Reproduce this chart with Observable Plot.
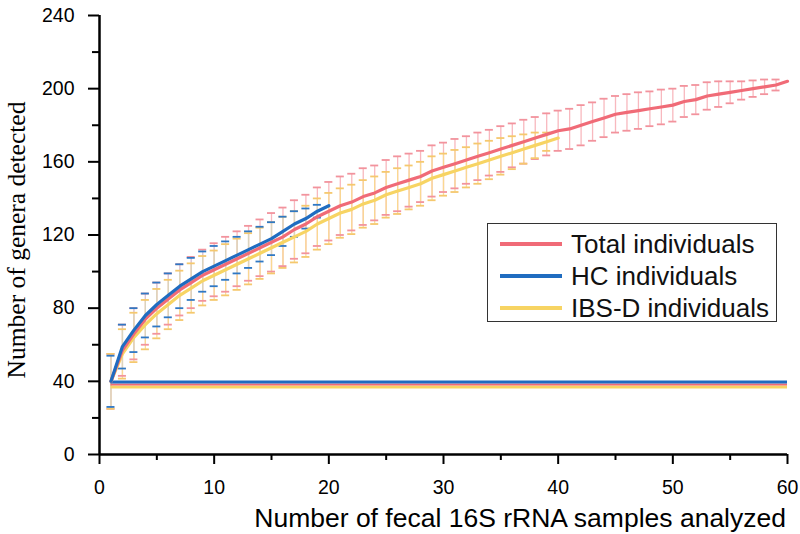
<!DOCTYPE html>
<html><head><meta charset="utf-8">
<script src="https://cdn.jsdelivr.net/npm/d3@7"></script>
<script src="https://cdn.jsdelivr.net/npm/@observablehq/plot@0.6"></script>
<style>
body{margin:0;background:#fff;}
#wrap{position:relative;width:800px;height:534px;}
.legend{position:absolute;left:487px;top:223px;width:290px;height:99px;border:1.5px solid #333;box-sizing:border-box;background:#fff;font-family:"Liberation Sans",Arial,sans-serif;font-size:26px;color:#111;}
.row{position:absolute;left:0;height:30px;display:flex;align-items:center;}
.sw{width:62px;height:3.5px;margin-left:12px;margin-right:9px;}
</style></head>
<body><div id="wrap"></div>
<script>
// Sample counts (x) and mean genera detected per curve
const seriesNames = ["Total individuals", "HC individuals", "IBS-D individuals"];
const seriesColors = ["#f06b77", "#1f6cc0", "#f7d463"];
const barColors = ["#f7b0b7", "#b9d2ee", "#f9dc8c"];
const capColors = ["#f2939d", "#2f78c4", "#f5c86e"];

const totalMean = [40,57,66,74,80,85,90,94,98,101,104,107,110,113,116,119,123,126,130,133,
  136,138,141,143,146,148,150,152,155,157,159,161,163,165,167,169,171,173,175,177,
  178,180,182,184,186,187,188,189,190,191,193,194,196,197,198,199,200,201,202,204];
const totalSd = [15,14,14,14,14,14,14,14,14,14.5,15,15,15,15.5,16,16,16,16,16,16,
  16,15.5,15.5,15,15,15,14.5,14,14,13.5,13.5,13,13,12.5,12.5,12,12,11.5,11.5,11,
  11,11,10.5,10.5,10,10,10,9.5,9.5,9,8.5,8,7.5,7,6,5,4.5,4,3,0];
const hcMean = [40,59,68,76,82,87,92,96,100,103,106,109,112,115,118,122,126,129,133,136];
const hcSd = [14,12,12,12,12,12,12,11.5,11,11,10.5,10,10,9.5,9,8,7,5.5,3.5,0];
const ibsMean = [40,55,64,71,77,82,87,91,95,98,101,104,107,110,113,116,119,122,126,129,
  132,134,137,139,142,144,146,148,151,153,155,157,159,161,163,165,167,169,171,173];
const ibsSd = [15,13.5,13.5,13.5,13.5,13.5,13.5,13.5,13.5,13.5,14,14,14,14,14,14,14,14,14,14,
  13.5,13.5,13,13,12.5,12.5,12,12,12,11.5,11.5,11,11,10.5,10,9,8,7,5,0];

// flat lines drawn across the plot at the bottom (as in original figure)
const flatLevels = [38.3, 39.6, 36.9];
const flatFrom = 1, flatTo = 60;

const xTicks = [0,10,20,30,40,50,60];
const xMinor = [5,15,25,35,45,55];
const yTicks = [0,40,80,120,160,200,240];
const yMinor = [20,60,100,140,180,220];
const xTitle = "Number of fecal 16S rRNA samples analyzed";
const yTitle = "Number of genera detected";

const means = [totalMean, hcMean, ibsMean];
const sds = [totalSd, hcSd, ibsSd];
const rows = means.map((arr, k) => arr.map((m, i) => ({x: i + 1, m, s: sds[k][i], k})));
const flat = flatLevels.map((y, k) => ({y, k, x1: flatFrom, x2: flatTo}));
const capW = 0.35;

const bars = k => rows[k].filter(d => d.s > 0);
const marks = [];
[0, 2, 1].forEach(k => marks.push(Plot.ruleX(bars(k), {x: "x", y1: d => d.m - d.s, y2: d => d.m + d.s, stroke: barColors[k], strokeWidth: 1.3, strokeOpacity: k === 1 ? 0.5 : 0.9})));
[0, 2, 1].forEach(k => {
  marks.push(Plot.ruleY(bars(k), {y: d => d.m + d.s, x1: d => d.x - capW, x2: d => d.x + capW, stroke: capColors[k], strokeWidth: 1.8}));
  marks.push(Plot.ruleY(bars(k), {y: d => d.m - d.s, x1: d => d.x - capW, x2: d => d.x + capW, stroke: capColors[k], strokeWidth: 1.8}));
});
[2, 0, 1].forEach(k => marks.push(Plot.ruleY([flat[k]], {y: "y", x1: "x1", x2: "x2", stroke: seriesColors[k], strokeWidth: k === 0 ? 2 : 3})));
[2, 0, 1].forEach(k => marks.push(Plot.line(rows[k], {x: "x", y: "m", stroke: seriesColors[k], strokeWidth: 3.2})));

const chart = Plot.plot({
  width: 800, height: 534,
  marginLeft: 99, marginRight: 13, marginTop: 15, marginBottom: 80,
  style: {fontFamily: "'Liberation Sans', Arial, sans-serif", color: "#000", background: "#fff"},
  x: {domain: [0, 60]},
  y: {domain: [0, 240]},
  marks: [
    ...marks,
    Plot.axisX({ticks: xTicks, tickSize: 10, tickPadding: 16, fontSize: 19.5, strokeWidth: 2, label: null, tickFormat: d => String(d)}),
    Plot.axisX({ticks: xMinor, tickSize: 6, strokeWidth: 2, label: null, tickFormat: () => ""}),
    Plot.axisY({ticks: yTicks, tickSize: 11, tickPadding: 14, fontSize: 19.5, strokeWidth: 2, label: null, tickFormat: d => String(d)}),
    Plot.axisY({ticks: yMinor, tickSize: 7, strokeWidth: 2, label: null, tickFormat: () => ""}),
    Plot.ruleX([0], {strokeWidth: 2.5, stroke: "#000"}),
    Plot.ruleY([0], {strokeWidth: 2.5, stroke: "#000"})
  ]
});
const wrap = document.getElementById("wrap");
wrap.appendChild(chart);

const svg = d3.select(chart);
svg.append("text")
  .attr("transform", "translate(25,240) rotate(-90)")
  .attr("text-anchor", "middle")
  .attr("font-family", "'Liberation Serif', 'Times New Roman', serif")
  .attr("font-size", 25.5)
  .attr("fill", "#000")
  .text(yTitle);
svg.append("text")
  .attr("x", 786).attr("y", 527)
  .attr("text-anchor", "end")
  .attr("font-family", "'Liberation Sans', Arial, sans-serif")
  .attr("font-size", 26.5)
  .attr("fill", "#000")
  .text(xTitle);

const legend = document.createElement("div");
legend.className = "legend";
seriesNames.forEach((name, k) => {
  const r = document.createElement("div");
  r.className = "row";
  r.style.top = (5 + k * 32) + "px";
  const sw = document.createElement("div");
  sw.className = "sw";
  sw.style.background = seriesColors[k];
  const t = document.createElement("span");
  t.textContent = name;
  r.appendChild(sw); r.appendChild(t);
  legend.appendChild(r);
});
wrap.appendChild(legend);
</script>
</body></html>
